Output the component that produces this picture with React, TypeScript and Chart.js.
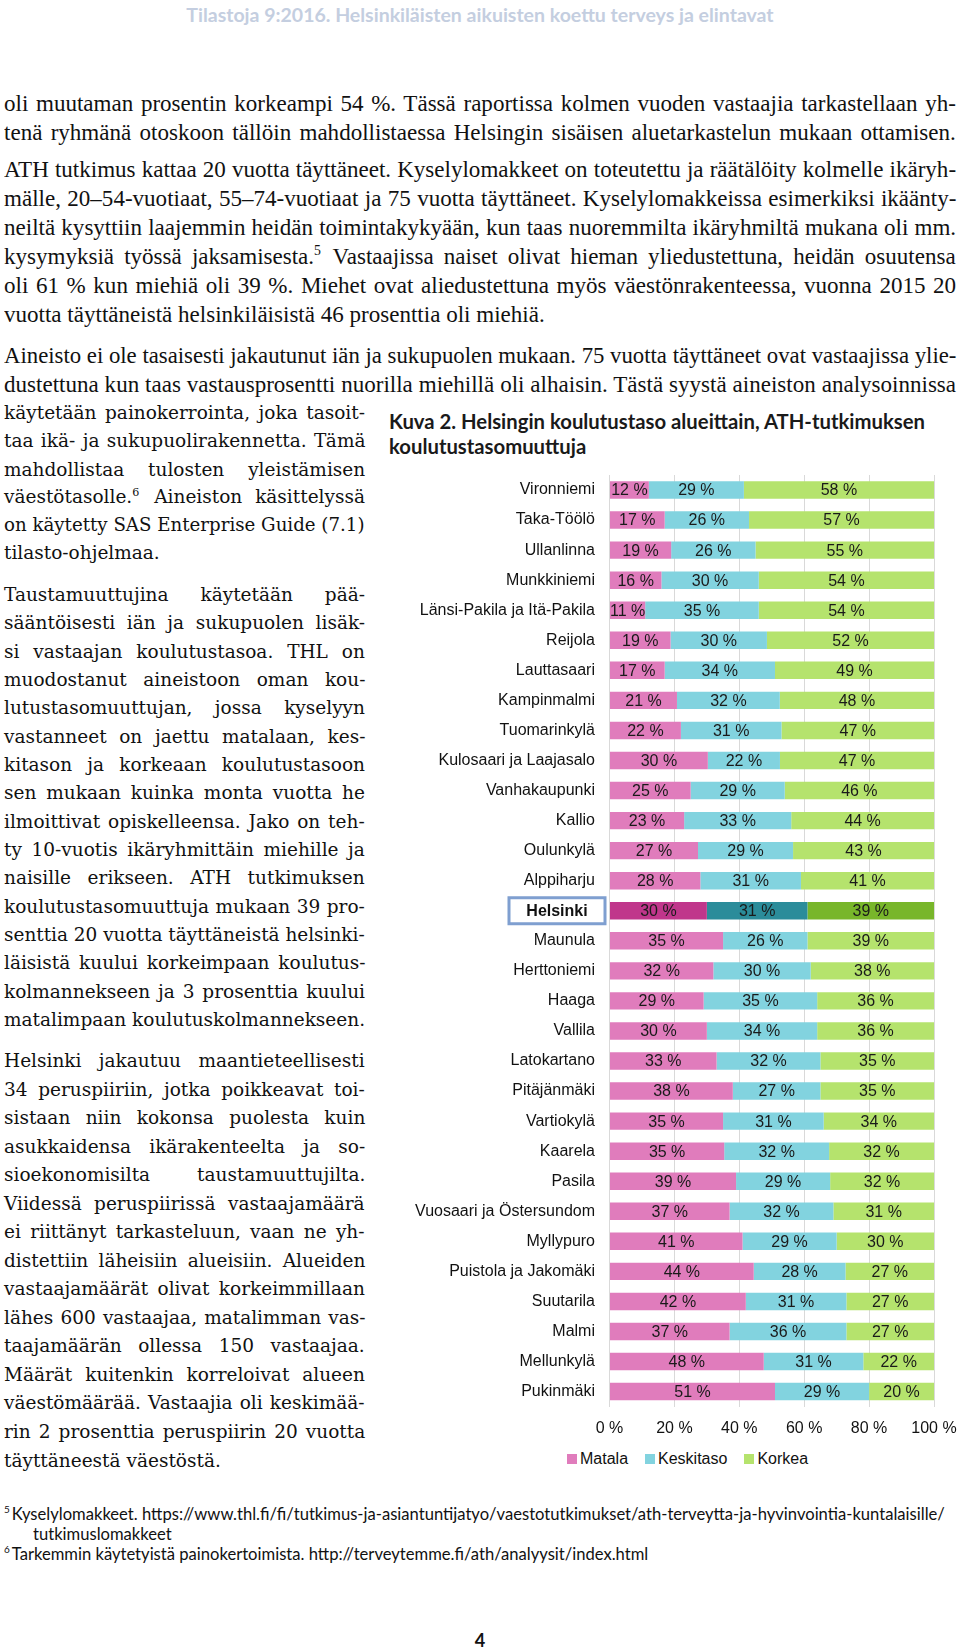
import React, { useEffect, useLayoutEffect, useRef } from "react";
import { Chart, registerables } from "chart.js";
Chart.register(...registerables);

// ---------- chart data ----------
const categories = [
  "Vironniemi", "Taka-Töölö", "Ullanlinna", "Munkkiniemi", "Länsi-Pakila ja Itä-Pakila",
  "Reijola", "Lauttasaari", "Kampinmalmi", "Tuomarinkylä", "Kulosaari ja Laajasalo",
  "Vanhakaupunki", "Kallio", "Oulunkylä", "Alppiharju", "Helsinki", "Maunula",
  "Herttoniemi", "Haaga", "Vallila", "Latokartano", "Pitäjänmäki", "Vartiokylä",
  "Kaarela", "Pasila", "Vuosaari ja Östersundom", "Myllypuro", "Puistola ja Jakomäki",
  "Suutarila", "Malmi", "Mellunkylä", "Pukinmäki",
];
const matala = [12, 17, 19, 16, 11, 19, 17, 21, 22, 30, 25, 23, 27, 28, 30, 35, 32, 29, 30, 33, 38, 35, 35, 39, 37, 41, 44, 42, 37, 48, 51];
const keskitaso = [29, 26, 26, 30, 35, 30, 34, 32, 31, 22, 29, 33, 29, 31, 31, 26, 30, 35, 34, 32, 27, 31, 32, 29, 32, 29, 28, 31, 36, 31, 29];
const korkea = [58, 57, 55, 54, 54, 52, 49, 48, 47, 47, 46, 44, 43, 41, 39, 39, 38, 36, 36, 35, 35, 34, 32, 32, 31, 30, 27, 27, 27, 22, 20];
const seriesNames = ["Matala", "Keskitaso", "Korkea"];
const xTicks = [0, 20, 40, 60, 80, 100];
const highlight = "Helsinki";

const seriesValues = [matala, keskitaso, korkea];
const lightColors = ["#e07cbc", "#82d3df", "#b5e36d"];
const darkColors = ["#c0368b", "#2b8c9a", "#78b62a"];

// ---------- page text ----------
const headerText = "Tilastoja 9:2016. Helsinkiläisten aikuisten koettu terveys ja elintavat";
const chartTitle = ["Kuva 2. Helsingin koulutustaso alueittain, ATH-tutkimuksen", "koulutustasomuuttuja"];

type L = [string, number, boolean];
const topLines: L[] = [
  ["oli muutaman prosentin korkeampi 54 %. Tässä raportissa kolmen vuoden vastaajia tarkastellaan yh-", 103, true],
  ["tenä ryhmänä otoskoon tällöin mahdollistaessa Helsingin sisäisen aluetarkastelun mukaan ottamisen.", 131.5, true],
  ["ATH tutkimus kattaa 20 vuotta täyttäneet. Kyselylomakkeet on toteutettu ja räätälöity kolmelle ikäryh-", 168.5, true],
  ["mälle, 20–54-vuotiaat, 55–74-vuotiaat ja 75 vuotta täyttäneet. Kyselylomakkeissa esimerkiksi ikäänty-", 197.5, true],
  ["neiltä kysyttiin laajemmin heidän toimintakykyään, kun taas nuoremmilta ikäryhmiltä mukana oli mm.", 226.5, true],
  ["kysymyksiä työssä jaksamisesta.^5 Vastaajissa naiset olivat hieman yliedustettuna, heidän osuutensa", 255.5, true],
  ["oli 61 % kun miehiä oli 39 %.  Miehet ovat aliedustettuna myös väestönrakenteessa, vuonna 2015 20", 284.5, true],
  ["vuotta täyttäneistä helsinkiläisistä 46 prosenttia oli miehiä.", 313.5, false],
  ["Aineisto ei ole tasaisesti jakautunut iän ja sukupuolen mukaan. 75 vuotta täyttäneet ovat vastaajissa ylie-", 354.5, true],
  ["dustettuna kun taas vastausprosentti nuorilla miehillä oli alhaisin. Tästä syystä aineiston analysoinnissa", 383.5, true],
];

const colLines: L[] = [
  ["käytetään painokerrointa, joka tasoit-", 412.5, true],
  ["taa ikä- ja sukupuolirakennetta. Tämä", 441, true],
  ["mahdollistaa tulosten yleistämisen", 469.5, true],
  ["väestötasolle.^6 Aineiston käsittelyssä", 497, true],
  ["on käytetty SAS Enterprise Guide (7.1)", 524.5, true],
  ["tilasto-ohjelmaa.", 552.5, false],
  ["Taustamuuttujina käytetään pää-", 595, true],
  ["sääntöisesti iän ja sukupuolen lisäk-", 623, true],
  ["si vastaajan koulutustasoa. THL on", 651.5, true],
  ["muodostanut aineistoon oman kou-", 680, true],
  ["lutustasomuuttujan, jossa kyselyyn", 708, true],
  ["vastanneet on jaettu matalaan, kes-", 736.5, true],
  ["kitason ja korkeaan koulutustasoon", 765, true],
  ["sen mukaan kuinka monta vuotta he", 793, true],
  ["ilmoittivat opiskelleensa. Jako on teh-", 821.5, true],
  ["ty 10-vuotis ikäryhmittäin miehille ja", 850, true],
  ["naisille erikseen. ATH tutkimuksen", 878, true],
  ["koulutustasomuuttuja mukaan 39 pro-", 906.5, true],
  ["senttia 20 vuotta täyttäneistä helsinki-", 935, true],
  ["läisistä kuului korkeimpaan koulutus-", 963, true],
  ["kolmannekseen ja 3 prosenttia kuului", 991.5, true],
  ["matalimpaan koulutuskolmannekseen.", 1020, true],
  ["Helsinki jakautuu maantieteellisesti", 1061, true],
  ["34 peruspiiriin, jotka poikkeavat toi-", 1089.5, true],
  ["sistaan niin kokonsa puolesta kuin", 1118, true],
  ["asukkaidensa ikärakenteelta ja so-", 1146.5, true],
  ["sioekonomisilta taustamuuttujilta.", 1175, true],
  ["Viidessä peruspiirissä vastaajamäärä", 1203.5, true],
  ["ei riittänyt tarkasteluun, vaan ne yh-", 1232, true],
  ["distettiin läheisiin alueisiin. Alueiden", 1260.5, true],
  ["vastaajamäärät olivat korkeimmillaan", 1289, true],
  ["lähes 600 vastaajaa, matalimman vas-", 1317.5, true],
  ["taajamäärän ollessa 150 vastaajaa.", 1346, true],
  ["Määrät kuitenkin korreloivat alueen", 1374.5, true],
  ["väestömäärää. Vastaajia oli keskimää-", 1403, true],
  ["rin 2 prosenttia peruspiirin 20 vuotta", 1431.5, true],
  ["täyttäneestä väestöstä.", 1461, false],
];

const footLines: [string, number, number][] = [
  ["^5Kyselylomakkeet. https://www.thl.fi/fi/tutkimus-ja-asiantuntijatyo/vaestotutkimukset/ath-terveytta-ja-hyvinvointia-kuntalaisille/", 1514, 4],
  ["tutkimuslomakkeet", 1534, 33],
  ["^6Tarkemmin käytetyistä painokertoimista. http://terveytemme.fi/ath/analyysit/index.html", 1554, 4],
];

const SANS = '"Liberation Sans", Arial, sans-serif';

function renderText(t: string) {
  const parts = t.split(/\^(\d)/);
  return parts.map((p, i) =>
    i % 2 === 1 ? (
      <sup key={i} style={{ fontSize: "0.6em", verticalAlign: "super", lineHeight: 0, marginRight: 2 }}>{p}</sup>
    ) : (
      <React.Fragment key={i}>{p}</React.Fragment>
    )
  );
}

function FitLine(props: { text: string; y: number; left: number; width: number; size: number; family: string; sx: number; justify: boolean }) {
  const { text, y, left, width, size, family, sx, justify } = props;
  const inner = useRef<HTMLSpanElement | null>(null);
  useLayoutEffect(() => {
    const sp = inner.current;
    if (!sp) return;
    sp.style.wordSpacing = "0px";
    sp.style.transform = `scaleX(${sx})`;
    const w = sp.offsetWidth;
    const target = width / sx;
    const gaps = text.trim().split(/ +/).length - 1;
    if (w > target) {
      sp.style.transform = `scaleX(${(sx * target) / w})`;
    } else if (justify && gaps > 0) {
      sp.style.wordSpacing = `${(target - w) / gaps}px`;
    }
  }, [text, width, size, family, sx, justify]);
  return (
    <div
      style={{
        position: "absolute",
        left,
        top: y - 14,
        height: 28,
        lineHeight: "28px",
        fontFamily: family,
        fontSize: size,
        color: "#111",
        whiteSpace: "nowrap",
      }}
    >
      <span ref={inner} style={{ display: "inline-block", transformOrigin: "0 50%", whiteSpace: "nowrap" }}>
        {renderText(text)}
      </span>
    </div>
  );
}

function BarChart() {
  const ref = useRef<HTMLCanvasElement | null>(null);
  useEffect(() => {
    if (!ref.current) return;
    const rowTotals = categories.map((_, i) => matala[i] + keskitaso[i] + korkea[i]);
    const hIndex = categories.indexOf(highlight);

    const labelPlugin = {
      id: "segLabels",
      afterDatasetsDraw(chart: any) {
        const ctx = chart.ctx;
        ctx.save();
        ctx.font = `16px ${SANS}`;
        ctx.fillStyle = "#1a1a1a";
        ctx.textAlign = "center";
        ctx.textBaseline = "middle";
        chart.data.datasets.forEach((_ds: any, di: number) => {
          const meta = chart.getDatasetMeta(di);
          meta.data.forEach((el: any, i: number) => {
            const p = el.getProps(["x", "base", "y"], true);
            ctx.fillText(`${seriesValues[di][i]} %`, (p.x + p.base) / 2, p.y + 1);
          });
        });
        const yScale = chart.scales.y;
        const cy = yScale.getPixelForValue(hIndex);
        const left = chart.chartArea.left;
        const bx = left - 100.5;
        const bw = 96;
        ctx.strokeStyle = "#7f9fd0";
        ctx.lineWidth = 3;
        ctx.strokeRect(bx, cy - 13, bw, 26);
        ctx.font = `bold 16px ${SANS}`;
        ctx.fillStyle = "#111";
        ctx.fillText(highlight, bx + bw / 2, cy + 1);
        ctx.restore();
      },
    };

    const chart = new Chart(ref.current, {
      type: "bar",
      data: {
        labels: categories,
        datasets: seriesNames.map((name, si) => ({
          label: name,
          data: seriesValues[si].map((v, i) => (v / rowTotals[i]) * 100),
          backgroundColor: categories.map((c) => (c === highlight ? darkColors[si] : lightColors[si])),
          borderWidth: 0,
          barPercentage: 0.58,
          categoryPercentage: 1,
        })),
      },
      options: {
        indexAxis: "y",
        animation: false,
        responsive: false,
        layout: { padding: { top: 5, right: 26, bottom: 3.4, left: 0 } },
        plugins: {
          legend: { display: false },
          tooltip: { enabled: false },
        },
        scales: {
          x: {
            stacked: true,
            min: 0,
            max: 100,
            afterBuildTicks: (s: any) => {
              s.ticks = xTicks.map((v) => ({ value: v }));
            },
            afterFit: (s: any) => {
              s.height = 30;
              s.paddingLeft = 0;
              s.paddingRight = 0;
            },
            ticks: {
              callback: (v: any) => `${v} %`,
              font: { family: SANS, size: 16 },
              color: "#111",
              padding: 12,
              maxRotation: 0,
            },
            grid: { color: "#d9d9d9", drawTicks: false, lineWidth: 1 },
            border: { display: false },
          },
          y: {
            stacked: true,
            afterFit: (s: any) => {
              s.width = 229.5;
              s.paddingTop = 0;
              s.paddingBottom = 0;
            },
            ticks: {
              autoSkip: false,
              font: { family: SANS, size: 16 },
              color: "#111",
              padding: 14.5,
              callback: (_v: any, i: number) => (categories[i] === highlight ? "" : categories[i]),
            },
            grid: { display: false, drawTicks: false },
            border: { display: false },
          },
        },
      } as any,
      plugins: [labelPlugin],
    });
    return () => chart.destroy();
  }, []);
  return <canvas ref={ref} width={580} height={970} style={{ position: "absolute", left: 380, top: 470, width: 580, height: 970 }} />;
}

export default function App() {
  return (
    <div style={{ position: "absolute", left: 0, top: 0, width: 960, height: 1650, background: "#fff", overflow: "hidden" }}>
      <div
        style={{
          position: "absolute",
          left: 0,
          width: 960,
          top: 3,
          height: 24,
          lineHeight: "24px",
          textAlign: "center",
          fontFamily: "Lato, sans-serif",
          fontWeight: 700,
          fontSize: 19.5,
          color: "#c4cee0",
          whiteSpace: "nowrap",
        }}
      >
        {headerText}
      </div>

      {topLines.map(([t, y, j], i) => (
        <FitLine key={"t" + i} text={t} y={y} left={4} width={952} size={24} family='"Liberation Serif", serif' sx={0.96} justify={j} />
      ))}
      {colLines.map(([t, y, j], i) => (
        <FitLine key={"c" + i} text={t} y={y} left={4} width={361} size={18.5} family='"DejaVu Serif", serif' sx={1} justify={j} />
      ))}

      <div
        style={{
          position: "absolute",
          left: 389,
          top: 409,
          fontFamily: "Lato, sans-serif",
          fontWeight: 700,
          fontSize: 20.3,
          lineHeight: "25px",
          color: "#1a1a1a",
          whiteSpace: "nowrap",
        }}
      >
        {chartTitle[0]}
        <br />
        {chartTitle[1]}
      </div>

      <BarChart />

      <div
        style={{
          position: "absolute",
          left: 567,
          top: 1449,
          height: 20,
          display: "flex",
          alignItems: "center",
          fontFamily: SANS,
          fontSize: 16,
          color: "#111",
          whiteSpace: "nowrap",
        }}
      >
        {seriesNames.map((n, i) => (
          <div key={n} style={{ display: "flex", alignItems: "center", marginRight: 17 }}>
            <span style={{ display: "inline-block", width: 10, height: 10, background: lightColors[i], marginRight: 3 }} />
            {n}
          </div>
        ))}
      </div>

      {footLines.map(([t, y, x], i) => (
        <div
          key={"f" + i}
          style={{
            position: "absolute",
            left: x,
            top: y - 10,
            height: 20,
            lineHeight: "20px",
            fontFamily: "Lato, sans-serif",
            fontSize: 16.6,
            color: "#111",
            whiteSpace: "nowrap",
          }}
        >
          {renderText(t)}
        </div>
      ))}

      <div
        style={{
          position: "absolute",
          left: 0,
          width: 960,
          top: 1628,
          lineHeight: "24px",
          textAlign: "center",
          fontFamily: "Lato, sans-serif",
          fontWeight: 700,
          fontSize: 18,
          color: "#111",
        }}
      >
        4
      </div>
    </div>
  );
}
